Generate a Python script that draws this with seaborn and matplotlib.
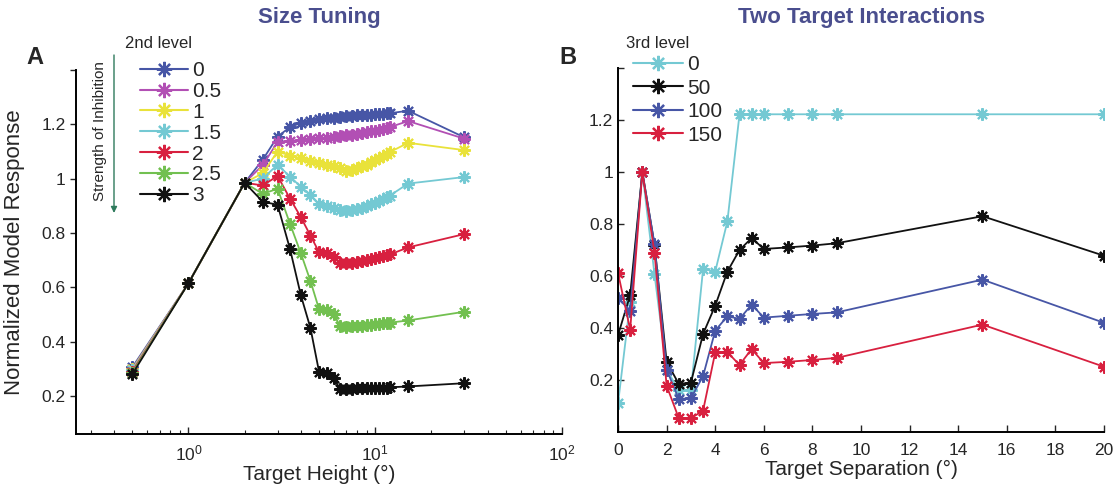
import numpy as np
import pandas as pd
import matplotlib
matplotlib.use("Agg")
import matplotlib.pyplot as plt
from matplotlib.lines import Line2D
from matplotlib.ticker import FixedLocator, FixedFormatter, LogLocator, NullFormatter
import seaborn as sns

sns.set_style("white")
plt.rcParams["font.family"] = ["Liberation Sans", "DejaVu Sans"]
plt.rcParams["mathtext.fontset"] = "custom"
plt.rcParams["mathtext.rm"] = "Liberation Sans"
plt.rcParams["mathtext.it"] = "Liberation Sans"

# ---------------- Panel A: size tuning ----------------
height_deg = [0.5, 1, 2, 2.5, 3, 3.5, 4, 4.5, 5, 5.5, 6, 6.5, 7, 7.5, 8, 8.5,
              9, 9.5, 10, 10.5, 11, 11.5, 12, 15, 30]
second_levels = ["0", "0.5", "1", "1.5", "2", "2.5", "3"]
resp_0 = [0.305, 0.615, 0.985, 1.07, 1.155, 1.19, 1.205, 1.213, 1.218, 1.222, 1.225,
          1.228, 1.23, 1.232, 1.233, 1.234, 1.235, 1.236, 1.237, 1.238, 1.239, 1.24,
          1.241, 1.25, 1.152]
resp_05 = [0.30, 0.615, 0.985, 1.05, 1.135, 1.14, 1.142, 1.145, 1.148, 1.15, 1.153,
           1.156, 1.159, 1.162, 1.165, 1.168, 1.171, 1.174, 1.177, 1.18, 1.183, 1.186,
           1.19, 1.212, 1.147]
resp_1 = [0.298, 0.615, 0.985, 1.02, 1.10, 1.085, 1.075, 1.065, 1.058, 1.05, 1.045,
          1.04, 1.03, 1.033, 1.038, 1.045, 1.052, 1.06, 1.068, 1.076, 1.083, 1.09,
          1.098, 1.132, 1.105]
resp_15 = [0.295, 0.615, 0.985, 1.0, 1.052, 1.007, 0.97, 0.94, 0.905, 0.898, 0.892,
           0.884, 0.882, 0.884, 0.888, 0.893, 0.899, 0.905, 0.912, 0.919, 0.926, 0.932,
           0.938, 0.982, 1.006]
resp_2 = [0.29, 0.615, 0.985, 0.975, 1.01, 0.926, 0.858, 0.79, 0.73, 0.725, 0.71,
          0.688, 0.688, 0.69, 0.693, 0.697, 0.701, 0.705, 0.709, 0.712, 0.715, 0.718,
          0.721, 0.747, 0.796]
resp_25 = [0.285, 0.615, 0.985, 0.944, 0.963, 0.833, 0.725, 0.623, 0.52, 0.518, 0.50,
           0.457, 0.455, 0.456, 0.457, 0.459, 0.461, 0.462, 0.464, 0.466, 0.467, 0.469,
           0.47, 0.478, 0.51]
resp_3 = [0.28, 0.615, 0.985, 0.915, 0.904, 0.74, 0.57, 0.45, 0.29, 0.285, 0.265,
          0.225, 0.226, 0.227, 0.228, 0.228, 0.229, 0.229, 0.23, 0.23, 0.231, 0.231,
          0.232, 0.235, 0.247]
colors_a = ["#4756a6", "#b24fb4", "#e9e23a", "#74c9d3", "#d8203f", "#72c050", "#111111"]

# ---------------- Panel B: two target interactions ----------------
separation_deg = [0, 0.5, 1, 1.5, 2, 2.5, 3, 3.5, 4, 4.5, 5, 5.5, 6, 7, 8, 9, 15, 20]
third_levels = ["0", "50", "100", "150"]
sep_0 = [0.11, 0.50, 1.0, 0.607, 0.24, 0.16, 0.16, 0.627, 0.617, 0.81, 1.222, 1.222,
         1.222, 1.222, 1.222, 1.222, 1.222, 1.222]
sep_50 = [0.373, 0.527, 1.0, 0.72, 0.27, 0.185, 0.19, 0.377, 0.486, 0.617, 0.70, 0.746,
          0.704, 0.71, 0.717, 0.726, 0.83, 0.678]
sep_100 = [0.514, 0.467, 1.0, 0.723, 0.24, 0.127, 0.13, 0.215, 0.39, 0.445, 0.435, 0.49,
           0.44, 0.447, 0.454, 0.46, 0.586, 0.42]
sep_150 = [0.612, 0.393, 1.0, 0.69, 0.178, 0.053, 0.053, 0.082, 0.306, 0.307, 0.258,
           0.319, 0.265, 0.27, 0.277, 0.285, 0.413, 0.251]
colors_b = ["#74c9d3", "#111111", "#4756a6", "#d8203f"]

df_a = pd.concat([
    pd.DataFrame({"height": height_deg, "resp": r, "level": lvl})
    for lvl, r in zip(second_levels,
                      [resp_0, resp_05, resp_1, resp_15, resp_2, resp_25, resp_3])
], ignore_index=True)
df_b = pd.concat([
    pd.DataFrame({"sep": separation_deg, "resp": r, "level": lvl})
    for lvl, r in zip(third_levels, [sep_0, sep_50, sep_100, sep_150])
], ignore_index=True)

ASTER = (8, 2, 0)
title_color = "#4a4e8e"

fig = plt.figure(figsize=(11.16, 4.91), dpi=100)
axA = fig.add_axes([0.0681, 0.1161, 0.4355, 0.7413])
axB = fig.add_axes([0.5538, 0.1202, 0.4354, 0.7413])

sns.lineplot(data=df_a, x="height", y="resp", hue="level", hue_order=second_levels,
             palette=colors_a, marker=ASTER, markersize=9, linewidth=1.3,
             legend=False, ax=axA, estimator=None, sort=False)
sns.lineplot(data=df_b, x="sep", y="resp", hue="level", hue_order=third_levels,
             palette=colors_b, marker=ASTER, markersize=9, linewidth=1.3,
             legend=False, ax=axB, estimator=None, sort=False)

for ax in (axA, axB):
    for ln in ax.lines:
        ln.set_markeredgecolor(ln.get_color())
        ln.set_markerfacecolor(ln.get_color())
        ln.set_markeredgewidth(1.5)
    for side in ("top", "right"):
        ax.spines[side].set_visible(False)
    for side in ("left", "bottom"):
        ax.spines[side].set_linewidth(1.4)
        ax.spines[side].set_color("black")
    ax.set_facecolor("white")

# Panel A axes
axA.set_xscale("log")
axA.set_xlim(0.25, 100)
axA.set_ylim(0.06, 1.4)
axA.xaxis.set_major_locator(FixedLocator([1, 10, 100]))
axA.xaxis.set_major_formatter(FixedFormatter([r"$10^{0}$", r"$10^{1}$", r"$10^{2}$"]))
axA.xaxis.set_minor_locator(LogLocator(base=10, subs=np.arange(2, 10)))
axA.xaxis.set_minor_formatter(NullFormatter())
a_yt = [0.2, 0.4, 0.6, 0.8, 1.0, 1.2, 1.4]
axA.yaxis.set_major_locator(FixedLocator(a_yt))
axA.yaxis.set_major_formatter(FixedFormatter(["0.2", "0.4", "0.6", "0.8", "1", "1.2", ""]))
axA.tick_params(axis="x", which="major", direction="in", length=5, width=1,
                labelsize=12.5, pad=7, bottom=True)
axA.tick_params(axis="x", which="minor", direction="in", length=3, width=0.8, bottom=True)
axA.tick_params(axis="y", direction="out", length=4, width=1, labelsize=12.5, left=True)
axA.set_xlabel("Target Height (°)", fontsize=15, labelpad=1)
axA.set_ylabel("Normalized Model Response", fontsize=16)
axA.yaxis.set_label_coords(-0.105, 0.5)

# Panel B axes
axB.set_xlim(0, 20)
axB.set_ylim(0, 1.4)
axB.xaxis.set_major_locator(FixedLocator(np.arange(0, 21, 2)))
axB.xaxis.set_major_formatter(FixedFormatter([str(v) for v in range(0, 21, 2)]))
b_yt = [0.2, 0.4, 0.6, 0.8, 1.0, 1.2, 1.4]
axB.yaxis.set_major_locator(FixedLocator(b_yt))
axB.yaxis.set_major_formatter(FixedFormatter(["0.2", "0.4", "0.6", "0.8", "1", "1.2", ""]))
axB.tick_params(axis="x", direction="in", length=5, width=1, labelsize=12.5, pad=8,
                bottom=True)
axB.tick_params(axis="y", direction="in", length=4, width=1, labelsize=12.5, left=True)
axB.set_xlabel("Target Separation (°)", fontsize=15, labelpad=1)
axB.set_ylabel("")

# Legends
h_a = [Line2D([], [], color=c, marker=ASTER, markersize=11, markeredgewidth=1.6,
              linewidth=1.5) for c in colors_a]
legA = fig.legend(h_a, second_levels, loc="upper left",
                  bbox_to_anchor=(140 / 1116, 1 - 61 / 491), frameon=False,
                  fontsize=15, handlelength=2.3, handletextpad=0.2,
                  labelspacing=0.09, borderpad=0, borderaxespad=0)
fig.text(125 / 1116, 1 - 44 / 491, "2nd level", fontsize=12, ha="left", va="center")

h_b = [Line2D([], [], color=c, marker=ASTER, markersize=11, markeredgewidth=1.6,
              linewidth=1.5) for c in colors_b]
legB = fig.legend(h_b, third_levels, loc="upper left",
                  bbox_to_anchor=(633 / 1116, 1 - 55 / 491), frameon=False,
                  fontsize=15, handlelength=2.4, handletextpad=0.2,
                  labelspacing=0.22, borderpad=0, borderaxespad=0)
fig.text(626 / 1116, 1 - 44 / 491, "3rd level", fontsize=12, ha="left", va="center")

# Inhibition-strength arrow beside legend A
fig.text(100 / 1116, 1 - 131 / 491, "Strength of Inhibition", fontsize=11,
         rotation=90, ha="center", va="center")
axA.annotate("", xy=(114 / 1116, 1 - 213 / 491), xytext=(114 / 1116, 1 - 55 / 491),
             xycoords="figure fraction", textcoords="figure fraction",
             arrowprops=dict(arrowstyle="-|>", color="#2e7a5c", lw=1.0,
                             mutation_scale=9, shrinkA=0, shrinkB=0))

# Titles and panel letters
fig.text(319 / 1116, 1 - 18 / 491, "Size Tuning", fontsize=16, fontweight="bold",
         color=title_color, ha="center", va="center")
fig.text(861 / 1116, 1 - 18 / 491, "Two Target Interactions", fontsize=16,
         fontweight="bold", color=title_color, ha="center", va="center")
fig.text(35 / 1116, 1 - 58 / 491, "A", fontsize=17, fontweight="bold",
         ha="center", va="center")
fig.text(568 / 1116, 1 - 58 / 491, "B", fontsize=17, fontweight="bold",
         ha="center", va="center")

fig.savefig("out.png", dpi=100, facecolor="white")
